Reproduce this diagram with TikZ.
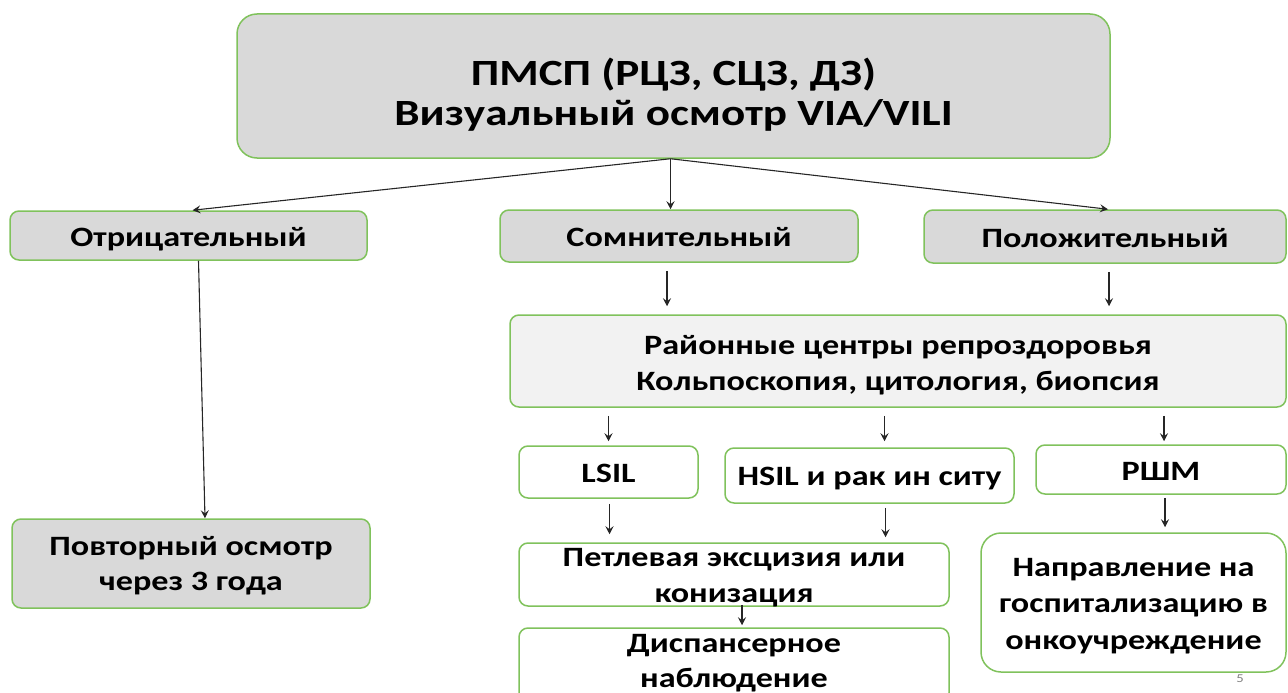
\documentclass[tikz,border=0pt]{standalone}
\usepackage{fontspec}
\setmainfont{Carlito}[FakeStretch=1.22]
\usetikzlibrary{arrows.meta}
\definecolor{bordergreen}{HTML}{80C25C}
\definecolor{boxgray}{HTML}{D9D9D9}
\definecolor{boxlight}{HTML}{F2F2F2}
\tikzset{
  box/.style={draw=bordergreen, line width=1.5pt, rounded corners=9pt, align=center,
    inner sep=0pt, text depth=0pt, font=\fontsize{28}{36}\selectfont\bfseries},
  graybox/.style={box, fill=boxgray},
  lightbox/.style={box, fill=boxlight},
  whitebox/.style={box, fill=white},
  arr/.style={draw=black!85, line width=1.1pt, -{Stealth[length=8pt,width=8pt,inset=3pt]}},
}
\begin{document}
\begin{tikzpicture}[x=1pt,y=-1pt]
\useasboundingbox (0,0) rectangle (1288,693);
\node[graybox, rounded corners=20pt, minimum width=873pt, minimum height=144pt, text height=78pt,
  font=\fontsize{37}{40}\selectfont\bfseries] (top) at (673.5,86)
  {ПМСП (РЦЗ, СЦЗ, ДЗ)\\Визуальный осмотр VIA/VILI};
\coordinate (hub) at ([xshift=-3pt]top.south);
\node[graybox, minimum width=357pt, minimum height=49pt, text height=21pt] (neg) at (188.5,235.5) {Отрицательный};
\node[graybox, minimum width=358pt, minimum height=52pt, text height=20pt] (dub) at (679,236) {Сомнительный};
\node[graybox, minimum width=362pt, minimum height=53pt, text height=22pt] (pos) at (1105,236.5) {Положительный};
\node[lightbox, minimum width=776pt, minimum height=92pt, text height=58pt] (ray) at (898,361)
  {Районные центры репроздоровья\\Кольпоскопия, цитология, биопсия};
\node[graybox, minimum width=358pt, minimum height=89pt, text height=53pt,
  font=\fontsize{28}{35}\selectfont\bfseries] (povt) at (191,563.5)
  {Повторный осмотр\\через 3 года};
\node[whitebox, minimum width=179pt, minimum height=52pt, text height=20pt] (lsil) at (608.5,472) {LSIL};
\node[whitebox, minimum width=289pt, minimum height=55pt, text height=20pt] (hsil) at (869.5,475.5) {HSIL и рак ин ситу};
\node[whitebox, minimum width=250pt, minimum height=49pt, text height=21pt] (rshm) at (1161,469.5) {РШМ};
\node[whitebox, minimum width=430pt, minimum height=63pt, text height=56pt] (petl) at (734,574.5)
  {Петлевая эксцизия или\\конизация};
\node[whitebox, minimum width=430pt, minimum height=74pt, text height=44pt,
  font=\fontsize{28}{35}\selectfont\bfseries] (disp) at (734,665)
  {Диспансерное\\наблюдение};
\node[whitebox, rounded corners=20pt, minimum width=305pt, minimum height=139pt, text height=93pt,
  font=\fontsize{28}{36.5}\selectfont\bfseries] (napr) at (1133.5,602.5)
  {Направление на\\госпитализацию в\\онкоучреждение};
\node[text=gray, font=\fontsize{12}{12}\selectfont] (pg) at (1240,679) {5};

\draw[arr] (hub) -- ([xshift=4pt]neg.north);
\draw[arr] (hub) -- (hub |- dub.north);
\draw[arr] (hub) -- ([xshift=3pt]pos.north);
\draw[arr] ([xshift=10pt]neg.south) -- ([xshift=14pt]povt.north);
\draw[arr, shorten <=8pt, shorten >=8pt] ([xshift=-12pt]dub.south) -- ([xshift=-12pt]dub.south |- ray.north);
\draw[arr, shorten <=8pt, shorten >=8pt] ([xshift=4pt]pos.south) -- ([xshift=4pt]pos.south |- ray.north);
\draw[arr, shorten <=8pt, shorten >=4pt] (lsil.north |- ray.south) -- (lsil.north);
\draw[arr, shorten <=8pt, shorten >=6pt] ([xshift=15pt]hsil.north |- ray.south) -- ([xshift=15pt]hsil.north);
\draw[arr, shorten <=8pt, shorten >=3pt] ([xshift=3pt]rshm.north |- ray.south) -- ([xshift=3pt]rshm.north);
\draw[arr, shorten <=5pt, shorten >=8pt] ([xshift=1pt]lsil.south) -- ([xshift=1pt]lsil.south |- petl.north);
\draw[arr, shorten <=4pt, shorten >=5pt] ([xshift=16pt]hsil.south) -- ([xshift=16pt]hsil.south |- petl.north);
\draw[arr, shorten <=3pt, shorten >=5pt] ([xshift=4pt]rshm.south) -- ([xshift=4pt]rshm.south |- napr.north);
\draw[arr, shorten <=-2pt, shorten >=2pt] ([xshift=8pt]petl.south) -- ([xshift=8pt]disp.north);
\end{tikzpicture}
\end{document}
